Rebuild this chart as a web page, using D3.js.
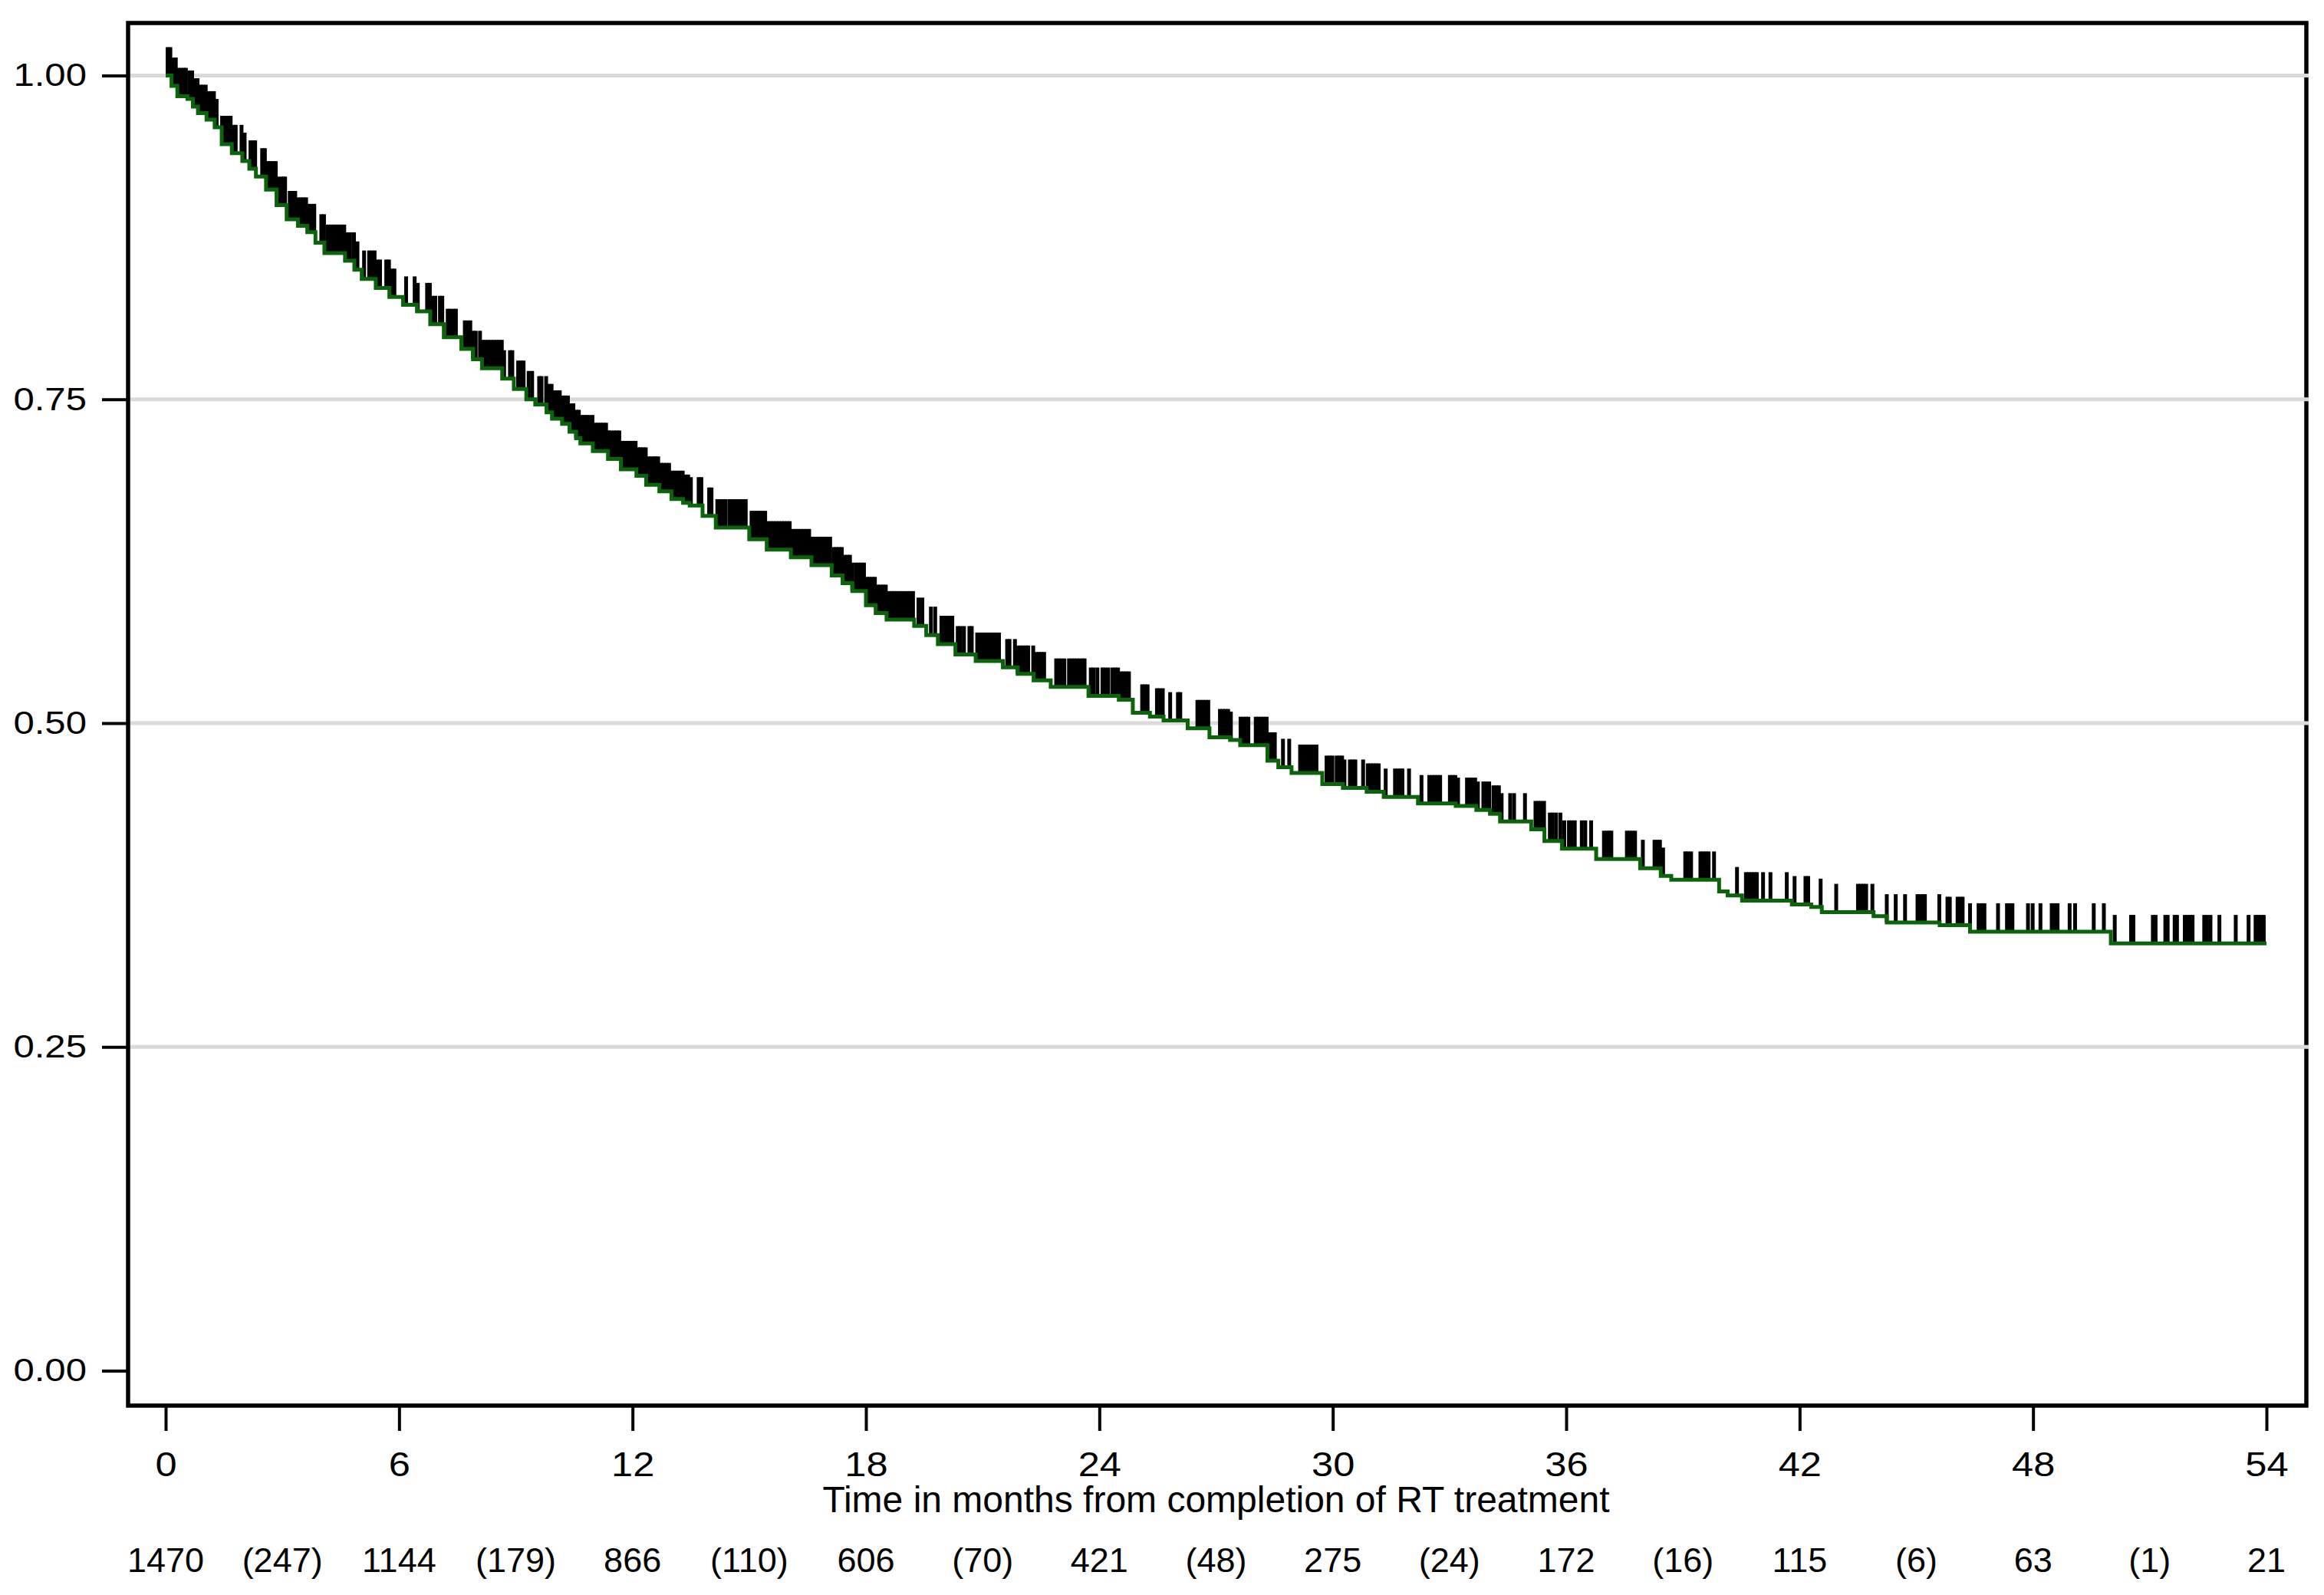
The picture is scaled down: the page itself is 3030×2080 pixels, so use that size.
<!DOCTYPE html>
<html>
<head>
<meta charset="utf-8">
<script src="https://cdn.jsdelivr.net/npm/d3@7"></script>
<style>
  html, body { margin: 0; padding: 0; background: #ffffff; }
  svg { display: block; }
  text { font-family: "Liberation Sans", Arial, Helvetica, sans-serif; fill: #000; }
</style>
</head>
<body>
<svg id="chart" width="3030" height="2080"></svg>
<script>
// ---------------- DATA ----------------
// Kaplan-Meier step times (months) and survival estimate after each step
const eventTimes = [0,0.15,0.3,0.56,0.7,0.83,1.05,1.26,1.44,1.7,1.97,2.15,2.32,2.58,2.85,3.11,3.4,3.64,3.85,4.08,
  4.61,4.85,5.04,5.4,5.75,6.1,6.46,6.8,7.15,7.6,7.9,8.13,8.65,8.95,9.27,9.5,9.79,9.93,10.19,10.38,
  10.55,10.66,10.98,11.37,11.7,12.1,12.35,12.69,13.0,13.3,13.47,13.8,14.14,15.0,15.45,16.07,16.6,17.12,17.4,17.65,
  18.0,18.25,18.53,19.24,19.55,19.85,20.3,20.82,21.52,21.9,22.31,22.75,23.72,24.5,24.86,25.3,25.65,26.27,26.83,27.36,
  27.62,28.32,28.6,28.94,29.73,30.26,30.87,31.31,32.19,33.16,33.69,34.04,34.3,35.1,35.44,35.89,36.77,37.9,38.43,38.7,
  39.93,40.15,40.52,41.8,42.3,42.57,43.9,44.24,45.6,46.38,50.0];
const survival = [1.000,0.992,0.984,0.982,0.976,0.971,0.966,0.960,0.947,0.940,0.934,0.928,0.922,0.912,0.900,0.889,0.884,0.879,0.871,0.863,
  0.857,0.850,0.843,0.836,0.829,0.823,0.818,0.808,0.798,0.789,0.781,0.774,0.766,0.758,0.750,0.746,0.740,0.735,0.731,0.725,
  0.720,0.716,0.710,0.704,0.696,0.691,0.684,0.679,0.673,0.670,0.668,0.660,0.651,0.642,0.634,0.628,0.622,0.614,0.608,0.602,
  0.591,0.585,0.580,0.575,0.568,0.561,0.553,0.548,0.543,0.538,0.533,0.528,0.521,0.518,0.508,0.505,0.502,0.496,0.489,0.487,
  0.483,0.471,0.466,0.4615,0.453,0.450,0.447,0.443,0.438,0.436,0.433,0.430,0.424,0.418,0.409,0.403,0.395,0.388,0.382,0.379,
  0.370,0.367,0.363,0.360,0.358,0.354,0.351,0.346,0.344,0.339,0.330];
const followUpEnd = 54;

// Censoring times (months), drawn as vertical tick marks
const censorTimes = [
  0.05,0.12,0.19,0.26,0.33,0.40,0.47,0.52,0.61,0.68,0.75,0.82,0.89,0.96,1.03,1.10,1.17,1.24,1.31,1.45,1.52,
  1.60,1.67,1.74,1.80,1.95,2.03,2.18,2.25,2.30,2.48,2.55,2.62,2.69,2.76,2.83,2.90,2.97,3.04,3.07,
  3.19,3.26,3.33,3.40,3.47,3.54,3.61,3.68,3.75,3.82,4.00,4.07,4.17,4.24,4.31,4.38,4.45,4.52,4.59,4.66,4.74,
  4.84,4.93,5.10,5.23,5.30,5.37,5.44,5.51,5.67,5.74,5.81,5.88,6.18,6.40,6.48,6.72,6.79,6.86,6.93,
  7.05,7.11,7.25,7.31,7.40,7.46,7.69,7.76,7.83,7.90,7.97,8.08,8.15,8.22,8.29,8.36,8.43,8.50,8.57,8.64,8.70,
  8.85,8.91,9.06,9.13,9.20,9.33,9.42,9.60,9.66,9.78,9.85,9.92,9.99,10.06,10.13,10.20,10.27,10.34,10.41,10.48,
  10.55,10.62,10.69,10.76,10.83,10.90,10.97,11.04,11.11,11.18,11.25,11.32,11.39,11.43,11.52,11.59,11.66,11.73,
  11.80,11.87,11.94,12.01,12.08,12.15,12.20,12.27,12.34,12.41,12.48,12.55,12.59,12.66,12.73,12.80,12.87,12.94,13.01,
  13.08,13.15,13.22,13.29,13.36,13.43,13.50,13.70,13.77,13.97,14.03,14.18,14.25,14.32,14.39,
  14.49,14.56,14.63,14.70,14.77,14.84,14.91,15.06,15.13,15.20,15.27,15.34,15.41,15.48,15.55,15.62,15.69,15.76,15.83,15.90,15.97,16.04,
  16.12,16.19,16.26,16.33,16.40,16.47,16.54,16.61,16.68,16.75,16.82,16.89,16.96,17.03,17.08,
  17.17,17.24,17.31,17.38,17.45,17.52,17.59,17.65,17.74,17.81,17.88,17.95,18.02,18.09,18.16,18.23,18.30,18.37,18.44,
  18.51,18.58,18.65,18.72,18.79,18.86,18.93,19.00,19.07,19.14,19.21,19.35,19.45,19.67,19.78,
  19.94,20.01,20.08,20.15,20.22,20.36,20.43,20.52,20.66,20.72,20.86,20.93,21.00,21.07,21.14,21.21,21.28,21.35,21.42,
  21.63,21.69,21.83,21.90,21.97,22.04,22.11,22.17,22.30,22.37,22.44,22.51,22.58,22.89,22.96,23.03,23.10,
  23.22,23.29,23.36,23.43,23.50,23.57,23.62,23.78,23.85,23.95,24.08,24.15,24.23,24.34,24.41,24.48,24.55,24.62,24.69,24.76,
  25.10,25.17,25.24,25.48,25.55,25.63,25.82,26.02,26.08,26.52,26.59,26.66,26.73,26.80,
  27.10,27.17,27.24,27.31,27.38,27.63,27.70,27.77,27.83,28.02,28.09,28.16,28.23,28.30,28.37,28.44,28.51,28.72,28.88,
  29.16,29.23,29.30,29.37,29.44,29.51,29.58,29.84,29.92,29.99,30.10,30.17,30.24,30.30,30.44,30.51,30.58,30.78,
  30.90,30.97,31.04,31.11,31.18,31.36,31.60,31.67,31.74,31.79,31.96,32.28,32.48,32.55,32.62,32.69,32.76,
  33.01,33.08,33.15,33.22,33.45,33.52,33.59,33.66,33.73,33.87,33.94,34.02,34.13,34.20,34.27,34.34,34.56,34.66,34.94,
  35.21,35.28,35.35,35.43,35.58,35.65,35.74,35.85,35.95,36.07,36.14,36.22,36.40,36.49,36.64,
  36.97,37.04,37.11,37.16,37.56,37.63,37.70,37.77,37.97,38.27,38.34,38.41,38.49,39.06,39.13,39.21,
  39.45,39.52,39.59,39.66,39.80,40.39,40.62,40.69,40.76,40.83,40.90,41.06,41.25,41.67,41.87,42.15,42.22,42.54,42.94,
  43.50,43.57,43.64,43.71,43.87,44.24,44.47,44.71,45.03,45.10,45.17,45.22,45.59,45.80,45.86,46.06,46.13,46.19,46.38,
  46.60,46.67,46.75,47.10,47.33,47.40,47.47,47.87,47.99,48.19,48.48,48.55,48.63,48.94,49.08,49.56,49.82,
  50.10,50.52,50.58,51.08,51.15,51.40,51.46,51.64,51.70,51.90,51.97,52.04,52.10,52.40,52.47,52.56,52.79,
  53.21,53.54,53.72,53.79,53.86,53.93];

// Axis ticks
const yTickValues = [0, 0.25, 0.5, 0.75, 1.0];
const yGridValues = [0.25, 0.5, 0.75, 1.0];
const xTickValues = [0, 6, 12, 18, 24, 30, 36, 42, 48, 54];
const xTitle = "Time in months from completion of RT treatment";

// Numbers at risk (at 0,6,..,54) and events (in parentheses, between)
const riskTimes = [0, 3, 6, 9, 12, 15, 18, 21, 24, 27, 30, 33, 36, 39, 42, 45, 48, 51, 54];
const riskLabels = ["1470","(247)","1144","(179)","866","(110)","606","(70)","421","(48)","275","(24)","172","(16)","115","(6)","63","(1)","21"];

// ---------------- DRAW ----------------
const svg = d3.select("#chart");
const frame = { left: 167, top: 30, right: 3007, bottom: 1833 };

const x = d3.scaleLinear().domain([0, 54]).range([216, 2955]);
const y = d3.scaleLinear().domain([0, 1]).range([1787.5, 98.5]);

svg.append("rect").attr("x", 0).attr("y", 0).attr("width", 3030).attr("height", 2080).attr("fill", "#fff");

// frame
svg.append("rect")
  .attr("x", frame.left).attr("y", frame.top)
  .attr("width", frame.right - frame.left).attr("height", frame.bottom - frame.top)
  .attr("fill", "none").attr("stroke", "#000").attr("stroke-width", 5.5);

// gridlines
svg.append("g").selectAll("line").data(yGridValues).join("line")
  .attr("x1", frame.left + 3).attr("x2", frame.right + 3)
  .attr("y1", d => y(d)).attr("y2", d => y(d))
  .attr("stroke", "#dadada").attr("stroke-width", 5);

// y axis
const yAxis = svg.append("g")
  .attr("transform", `translate(${frame.left},0)`)
  .call(d3.axisLeft(y).tickValues(yTickValues).tickFormat(d3.format(".2f")).tickSize(34).tickPadding(20));
yAxis.select(".domain").remove();
yAxis.selectAll(".tick line").attr("stroke", "#000").attr("stroke-width", 4);
yAxis.selectAll(".tick text")
  .attr("font-size", 42).attr("font-family", "Liberation Sans, Arial, sans-serif").attr("fill", "#000")
  .attr("x", 0).attr("transform", "translate(-54,0) scale(1.17,1)");

// x axis
const xAxis = svg.append("g")
  .attr("transform", `translate(0,${frame.bottom})`)
  .call(d3.axisBottom(x).tickValues(xTickValues).tickFormat(d3.format("d")).tickSize(33).tickPadding(31));
xAxis.select(".domain").remove();
xAxis.selectAll(".tick line").attr("stroke", "#000").attr("stroke-width", 4);
xAxis.selectAll(".tick text")
  .attr("font-size", 44).attr("font-family", "Liberation Sans, Arial, sans-serif").attr("fill", "#000")
  .attr("y", 0).attr("dy", null).attr("transform", "translate(0,92) scale(1.15,1)");

// x title
svg.append("text")
  .attr("x", (x(0) + x(54)) / 2).attr("y", 1972)
  .attr("text-anchor", "middle").attr("font-size", 48)
  .text(xTitle);

// numbers at risk
svg.append("g").selectAll("text").data(riskTimes).join("text")
  .attr("x", d => x(d)).attr("y", 2050)
  .attr("text-anchor", "middle").attr("font-size", 45)
  .text((d, i) => riskLabels[i]);

// survival lookup
const survAt = t => survival[Math.max(0, d3.bisectRight(eventTimes, t) - 1)];

// censor ticks
const tickH = 37;
svg.append("g").selectAll("line").data(censorTimes).join("line")
  .attr("x1", d => x(d)).attr("x2", d => x(d))
  .attr("y1", d => y(survAt(d)))
  .attr("y2", d => y(survAt(d)) - tickH)
  .attr("stroke", "#000").attr("stroke-width", 5);

// KM step line
const kmPts = eventTimes.map((t, i) => [t, survival[i]]);
kmPts.push([followUpEnd, survival[survival.length - 1]]);
svg.append("path")
  .datum(kmPts)
  .attr("fill", "none")
  .attr("stroke", "#0a640a")
  .attr("stroke-width", 5)
  .attr("d", d3.line().x(d => x(d[0])).y(d => y(d[1])).curve(d3.curveStepAfter));
</script>
</body>
</html>
